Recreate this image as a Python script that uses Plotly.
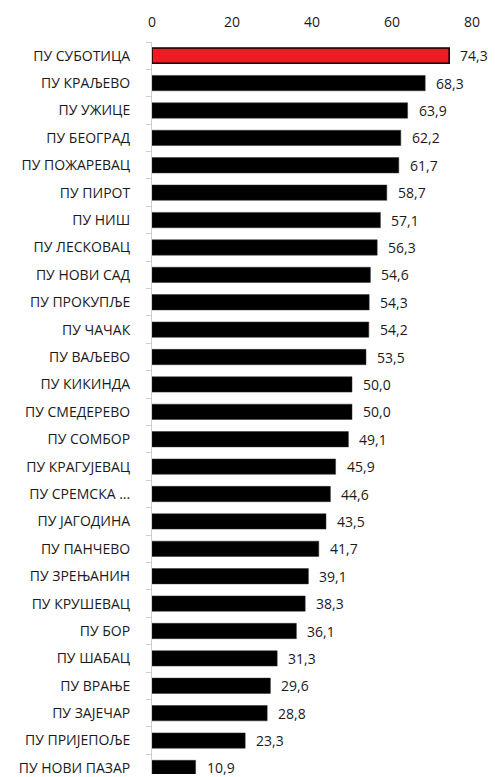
import plotly.graph_objects as go

# Police administrations and their values
categories = [
    "ПУ СУБОТИЦА", "ПУ КРАЉЕВО", "ПУ УЖИЦЕ", "ПУ БЕОГРАД", "ПУ ПОЖАРЕВАЦ",
    "ПУ ПИРОТ", "ПУ НИШ", "ПУ ЛЕСКОВАЦ", "ПУ НОВИ САД", "ПУ ПРОКУПЉЕ",
    "ПУ ЧАЧАК", "ПУ ВАЉЕВО", "ПУ КИКИНДА", "ПУ СМЕДЕРЕВО", "ПУ СОМБОР",
    "ПУ КРАГУЈЕВАЦ", "ПУ СРЕМСКА ...", "ПУ ЈАГОДИНА", "ПУ ПАНЧЕВО",
    "ПУ ЗРЕЊАНИН", "ПУ КРУШЕВАЦ", "ПУ БОР", "ПУ ШАБАЦ", "ПУ ВРАЊЕ",
    "ПУ ЗАЈЕЧАР", "ПУ ПРИЈЕПОЉЕ", "ПУ НОВИ ПАЗАР",
]
values = [
    74.3, 68.3, 63.9, 62.2, 61.7, 58.7, 57.1, 56.3, 54.6, 54.3, 54.2, 53.5,
    50.0, 50.0, 49.1, 45.9, 44.6, 43.5, 41.7, 39.1, 38.3, 36.1, 31.3, 29.6,
    28.8, 23.3, 10.9,
]
x_ticks = [0, 20, 40, 60, 80]
highlight = "ПУ СУБОТИЦА"

FONT = "Open Sans"
TEXT_COLOR = "#1a1a1a"
SIZE = 14

colors = ["#ED1C24" if c == highlight else "#000000" for c in categories]
line_widths = [1.5 if c == highlight else 0.5 for c in categories]
line_colors = ["#000000" if c == highlight else "#333333" for c in categories]

fig = go.Figure(
    go.Bar(
        x=values,
        y=categories,
        orientation="h",
        width=0.56,
        marker=dict(color=colors, line=dict(color=line_colors, width=line_widths)),
        hoverinfo="skip",
    )
)

# value labels to the right of each bar, comma as decimal separator
for c, v in zip(categories, values):
    fig.add_annotation(
        x=v, y=c, xref="x", yref="y",
        text=f"{v:.1f}".replace(".", ","),
        showarrow=False, xanchor="left", xshift=9,
        font=dict(family=FONT, size=SIZE, color=TEXT_COLOR),
    )

fig.update_layout(
    width=495,
    height=777,
    margin=dict(l=152, r=3, t=42, b=0),
    paper_bgcolor="white",
    plot_bgcolor="white",
    showlegend=False,
    font=dict(family=FONT, size=SIZE, color=TEXT_COLOR),
    xaxis=dict(
        side="top",
        range=[0, 85],
        tickvals=x_ticks,
        ticktext=[str(t) for t in x_ticks],
        showgrid=False,
        zeroline=False,
        showline=False,
        ticks="",
        ticklabelstandoff=11,
        tickfont=dict(family=FONT, size=SIZE, color=TEXT_COLOR),
    ),
    yaxis=dict(
        type="category",
        categoryorder="array",
        categoryarray=categories,
        range=[26.22, -0.5],
        showgrid=False,
        zeroline=False,
        showline=True,
        linecolor="#CFCFCF",
        linewidth=1,
        ticks="outside",
        tickson="boundaries",
        ticklen=5,
        tickcolor="#CFCFCF",
        ticklabelstandoff=18,
        tickfont=dict(family=FONT, size=SIZE, color=TEXT_COLOR),
    ),
)

fig.write_html("out.html")
